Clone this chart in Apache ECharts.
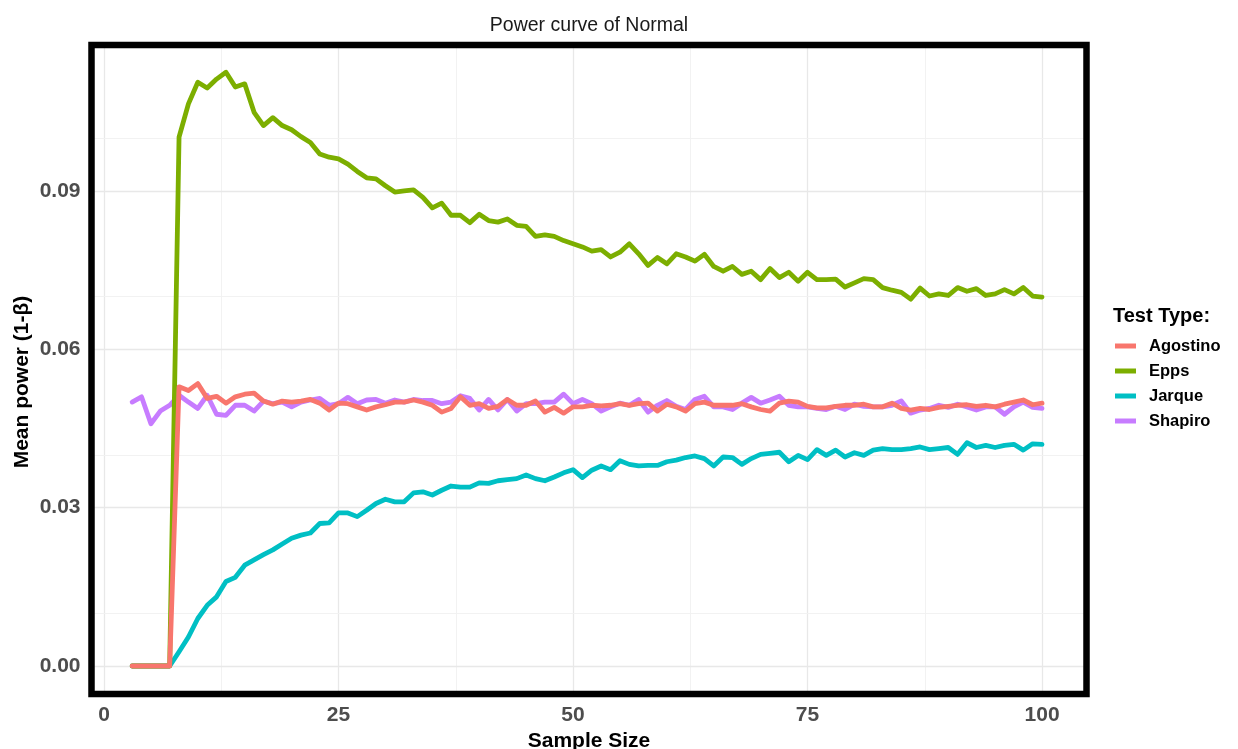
<!DOCTYPE html>
<html>
<head>
<meta charset="utf-8">
<script src="https://cdn.jsdelivr.net/npm/echarts@6/dist/echarts.min.js"></script>
<style>
  html, body { margin: 0; padding: 0; background: #fff; }
  #chart { width: 1238px; height: 749px; }
</style>
</head>
<body>
<div id="chart"></div>
<script>
// Sample sizes on the x axis
const sampleSize = [
  3, 4, 5, 6, 7, 8, 9, 10, 11, 12, 13, 14, 15, 16, 17, 18, 19, 20, 21, 22,
  23, 24, 25, 26, 27, 28, 29, 30, 31, 32, 33, 34, 35, 36, 37, 38, 39, 40, 41, 42,
  43, 44, 45, 46, 47, 48, 49, 50, 51, 52, 53, 54, 55, 56, 57, 58, 59, 60, 61, 62,
  63, 64, 65, 66, 67, 68, 69, 70, 71, 72, 73, 74, 75, 76, 77, 78, 79, 80, 81, 82,
  83, 84, 85, 86, 87, 88, 89, 90, 91, 92, 93, 94, 95, 96, 97, 98, 99, 100
];

// Mean power (1-β) per test, one value per sample size
const agostino = [
  0, 0, 0, 0, 0,
  0.0529, 0.0522, 0.0535, 0.0507, 0.0511, 0.0498, 0.0510, 0.0515, 0.0517, 0.0502,
  0.0496, 0.0502, 0.0500, 0.0502, 0.0505, 0.0498, 0.0485, 0.0498, 0.0497, 0.0491,
  0.0485, 0.0491, 0.0495, 0.0500, 0.0500, 0.0504, 0.0500, 0.0494, 0.0481, 0.0488,
  0.0510, 0.0494, 0.0497, 0.0488, 0.0492, 0.0505, 0.0494, 0.0494, 0.0502, 0.0481,
  0.0490, 0.0479, 0.0491, 0.0491, 0.0494, 0.0493, 0.0494, 0.0497, 0.0494, 0.0497,
  0.0498, 0.0483, 0.0496, 0.0491, 0.0483, 0.0497, 0.0500, 0.0494, 0.0494, 0.0494,
  0.0497, 0.0491, 0.0486, 0.0483, 0.0498, 0.0502, 0.0500, 0.0492, 0.0489, 0.0489,
  0.0492, 0.0494, 0.0494, 0.0496, 0.0491, 0.0491, 0.0498, 0.0488, 0.0485, 0.0488,
  0.0486, 0.0490, 0.0492, 0.0494, 0.0495, 0.0492, 0.0494, 0.0491, 0.0496, 0.0500,
  0.0504, 0.0495, 0.0498
];

const epps = [
  0, 0, 0, 0, 0,
  0.1002, 0.1065, 0.1106, 0.1095, 0.1112, 0.1125, 0.1097, 0.1103, 0.1049, 0.1024,
  0.1039, 0.1024, 0.1016, 0.1003, 0.0992, 0.0970, 0.0964, 0.0961, 0.0951, 0.0937,
  0.0925, 0.0923, 0.0910, 0.0898, 0.0900, 0.0902, 0.0888, 0.0868, 0.0877, 0.0854,
  0.0854, 0.0840, 0.0856, 0.0844, 0.0841, 0.0847, 0.0835, 0.0833, 0.0814, 0.0817,
  0.0814, 0.0806, 0.0800, 0.0794, 0.0786, 0.0789, 0.0775, 0.0784, 0.0800, 0.0781,
  0.0759, 0.0774, 0.0762, 0.0781, 0.0775, 0.0767, 0.0780, 0.0757, 0.0748, 0.0757,
  0.0742, 0.0748, 0.0732, 0.0753, 0.0736, 0.0746, 0.0729, 0.0746, 0.0732, 0.0732,
  0.0733, 0.0718, 0.0726, 0.0734, 0.0732, 0.0717, 0.0712, 0.0708, 0.0695, 0.0716,
  0.0701, 0.0705, 0.0702, 0.0717, 0.0710, 0.0715, 0.0702, 0.0705, 0.0713, 0.0705,
  0.0717, 0.0701, 0.0699
];

const jarque = [
  0, 0, 0, 0, 0,
  0.0027, 0.0055, 0.0090, 0.0115, 0.0131, 0.0160, 0.0168, 0.0191, 0.0201, 0.0211,
  0.0220, 0.0231, 0.0242, 0.0248, 0.0252, 0.0270, 0.0271, 0.0290, 0.0290, 0.0283,
  0.0295, 0.0308, 0.0316, 0.0311, 0.0311, 0.0328, 0.0330, 0.0324, 0.0333, 0.0341,
  0.0339, 0.0339, 0.0347, 0.0346, 0.0351, 0.0353, 0.0355, 0.0362, 0.0355, 0.0351,
  0.0358, 0.0366, 0.0372, 0.0357, 0.0371, 0.0379, 0.0372, 0.0389, 0.0382, 0.0379,
  0.0380, 0.0380, 0.0387, 0.0390, 0.0395, 0.0398, 0.0393, 0.0379, 0.0396, 0.0395,
  0.0382, 0.0393, 0.0401, 0.0403, 0.0405, 0.0387, 0.0399, 0.0391, 0.0410, 0.0399,
  0.0409, 0.0396, 0.0404, 0.0399, 0.0409, 0.0412, 0.0410, 0.0410, 0.0412, 0.0415,
  0.0410, 0.0412, 0.0414, 0.0401, 0.0423, 0.0414, 0.0418, 0.0414, 0.0418, 0.0420,
  0.0409, 0.0421, 0.0420
];

const shapiro = [
  0.0500, 0.0510, 0.0459, 0.0483, 0.0494,
  0.0513, 0.0500, 0.0488, 0.0513, 0.0477, 0.0475, 0.0494, 0.0494, 0.0483, 0.0502,
  0.0497, 0.0500, 0.0491, 0.0500, 0.0504, 0.0507, 0.0494, 0.0497, 0.0509, 0.0497,
  0.0504, 0.0505, 0.0498, 0.0504, 0.0500, 0.0505, 0.0503, 0.0503, 0.0497, 0.0500,
  0.0512, 0.0507, 0.0485, 0.0505, 0.0485, 0.0505, 0.0483, 0.0497, 0.0497, 0.0500,
  0.0500, 0.0515, 0.0497, 0.0505, 0.0497, 0.0483, 0.0491, 0.0498, 0.0494, 0.0505,
  0.0481, 0.0494, 0.0503, 0.0492, 0.0486, 0.0505, 0.0511, 0.0491, 0.0491, 0.0486,
  0.0498, 0.0509, 0.0498, 0.0504, 0.0511, 0.0494, 0.0491, 0.0491, 0.0488, 0.0486,
  0.0492, 0.0486, 0.0496, 0.0492, 0.0491, 0.0491, 0.0494, 0.0502, 0.0479, 0.0485,
  0.0488, 0.0494, 0.0490, 0.0496, 0.0491, 0.0485, 0.0491, 0.0491, 0.0477, 0.0491,
  0.0500, 0.0490, 0.0488
];

// Tick labels and grid positions
const xTicks = [0, 25, 50, 75, 100];
const xMinorTicks = [12.5, 37.5, 62.5, 87.5];
const yTicks = [0, 0.03, 0.06, 0.09];
const yMinorTicks = [0.015, 0.045, 0.075, 0.105];

const testNames = ['Agostino', 'Epps', 'Jarque', 'Shapiro'];
const testColors = { Agostino: '#F8766D', Epps: '#7CAE00', Jarque: '#00BFC4', Shapiro: '#C77CFF' };
const testValues = { Agostino: agostino, Epps: epps, Jarque: jarque, Shapiro: shapiro };
// drawing order, last one on top
const drawOrder = ['Shapiro', 'Jarque', 'Epps', 'Agostino'];

const FONT = "'Liberation Sans', Arial, Helvetica, sans-serif";

// panel placement (pixels)
const PANEL = { left: 91.5, right: 151.5, top: 45, bottom: 55 };
const W = 1238, H = 749;

function pairs(values) {
  return sampleSize.map((n, i) => [n, values[i]]);
}

const majorGrid = { type: 'solid', color: '#e8e8e8', width: 1.3 };
const minorGrid = { type: 'solid', color: '#f1f1f1', width: 0.9 };
const gridLines = [];
xTicks.forEach(v => gridLines.push({ xAxis: v, lineStyle: majorGrid }));
xMinorTicks.forEach(v => gridLines.push({ xAxis: v, lineStyle: minorGrid }));
yTicks.forEach(v => gridLines.push({ yAxis: v, lineStyle: majorGrid }));
yMinorTicks.forEach(v => gridLines.push({ yAxis: v, lineStyle: minorGrid }));

const series = [{
  name: '_grid',
  type: 'line',
  data: [],
  z: 1,
  silent: true,
  markLine: {
    z: 1,
    silent: true,
    symbol: 'none',
    label: { show: false },
    emphasis: { disabled: true },
    animation: false,
    lineStyle: { type: 'solid' },
    data: gridLines
  }
}];

drawOrder.forEach((name, k) => {
  series.push({
    name: name,
    type: 'line',
    data: pairs(testValues[name]),
    showSymbol: false,
    symbol: 'none',
    z: 10 + k,
    emphasis: { disabled: true },
    lineStyle: { type: 'solid', color: testColors[name], width: 4.8, join: 'round', cap: 'round' },
    itemStyle: { color: testColors[name] }
  });
});

const chart = echarts.init(document.getElementById('chart'), null, { renderer: 'canvas' });
chart.setOption({
  animation: false,
  backgroundColor: '#ffffff',
  title: [{
    text: 'Power curve of Normal',
    left: 584,
    top: 11,
    textAlign: 'center',
    textStyle: { fontFamily: FONT, fontSize: 19.5, fontWeight: 'normal', color: '#1a1a1a' }
  }, {
    text: 'Test Type:',
    left: 1108,
    top: 301,
    textStyle: { fontFamily: FONT, fontSize: 20, fontWeight: 'bold', color: '#000' }
  }],
  grid: {
    left: PANEL.left,
    right: PANEL.right,
    top: PANEL.top,
    bottom: PANEL.bottom,
    outerBoundsMode: 'none',
    containLabel: false,
    show: false
  },
  legend: {
    data: testNames,
    orient: 'vertical',
    left: 1110,
    top: 332,
    icon: 'rect',
    itemWidth: 21,
    itemHeight: 5,
    itemGap: 7,
    textStyle: {
      fontFamily: FONT, fontSize: 16.5, fontWeight: 'bold', color: '#000',
      lineHeight: 18, padding: [0, 0, 0, 8]
    }
  },
  xAxis: {
    type: 'value',
    min: -1.333,
    max: 104.74,
    axisLine: { show: false },
    axisTick: { show: false },
    splitLine: { show: false },
    axisLabel: {
      customValues: xTicks,
      margin: 11,
      fontFamily: FONT,
      fontSize: 21,
      fontWeight: 'bold',
      color: '#4d4d4d'
    },
    name: 'Sample Size',
    nameLocation: 'middle',
    nameGap: 33,
    nameTextStyle: { fontFamily: FONT, fontSize: 21, fontWeight: 'bold', color: '#000' }
  },
  yAxis: {
    type: 'value',
    min: -0.005305,
    max: 0.11766,
    axisLine: { show: false },
    axisTick: { show: true, customValues: yTicks, length: 4, lineStyle: { color: '#d9d9d9', width: 1 } },
    splitLine: { show: false },
    axisLabel: {
      customValues: yTicks,
      margin: 11,
      fontFamily: FONT,
      fontSize: 21,
      fontWeight: 'bold',
      color: '#4d4d4d',
      formatter: v => v.toFixed(2)
    }
  },
  graphic: [{
    // heavy black panel border, drawn above the grid lines
    type: 'rect',
    z: 100,
    silent: true,
    shape: {
      x: PANEL.left,
      y: PANEL.top,
      width: W - PANEL.left - PANEL.right,
      height: H - PANEL.top - PANEL.bottom
    },
    style: { fill: 'none', stroke: '#000', lineWidth: 6.5 }
  }, {
    type: 'text',
    x: 22, y: 382,
    rotation: Math.PI / 2,
    style: {
      text: 'Mean power (1-β)',
      fontFamily: FONT,
      fontSize: 21,
      fontWeight: 'bold',
      fill: '#000',
      align: 'center',
      verticalAlign: 'middle'
    }
  }],
  series: series
});
</script>
</body>
</html>
